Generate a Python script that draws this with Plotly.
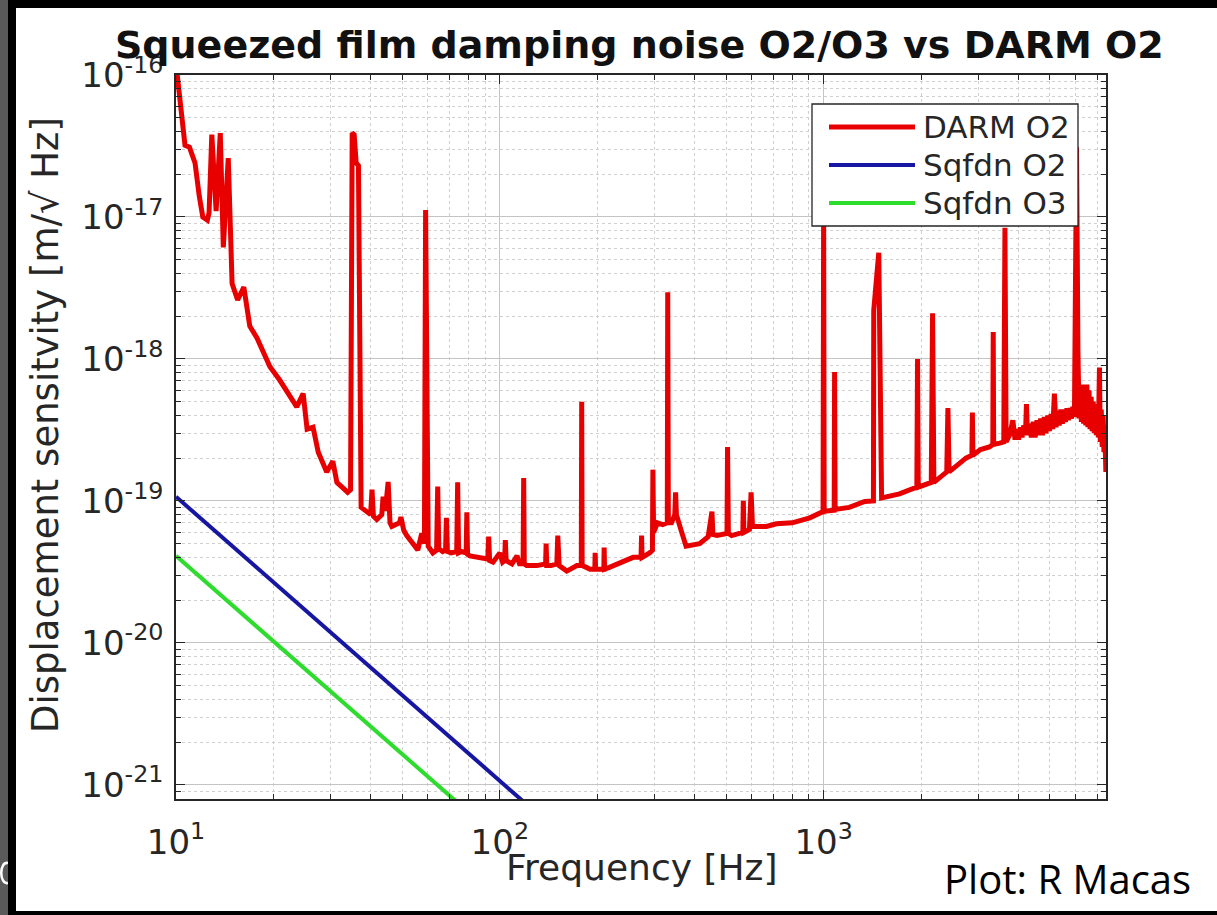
import plotly.graph_objects as go

# ---------------------------------------------------------------- data
legend_labels = ["DARM O2", "Sqfdn O2", "Sqfdn O3"]

darm_freq = [
    10.0, 10.3, 10.66, 11.0, 11.45, 11.8, 12.1, 12.5, 12.65, 12.9, 13.3, 13.7,
    14.0, 14.5, 14.9, 15.5, 16.2, 16.9, 17.8, 19.5, 20.9, 23.6, 24.7, 25.4,
    26.5, 27.5, 29.2, 30.5, 31.4, 33.9, 34.6, 35.0, 35.5, 36.0, 36.6, 37.3,
    38.8, 39.9, 40.3, 40.7, 41.7, 43.2, 43.6, 44.3, 45.2, 45.8, 46.4, 49.0,
    49.5, 50.5, 51.6, 55.8, 57.4, 58.5, 59.0, 59.6, 60.1, 62.1, 63.8, 64.3,
    64.8, 66.6, 68.0, 68.4, 68.9, 70.8, 73.6, 74.1, 74.6, 76.2, 78.7, 79.1,
    79.5, 80.8, 85.0, 91.8, 92.4, 93.0, 95.3, 100.0, 102.0, 103.5, 104.0, 104.6,
    109.0, 113.0, 115.0, 118.0, 118.5, 119.0, 121.0, 130.0, 138.5, 139.0, 139.6, 144.0,
    150.0, 151.0, 152.5, 161.0, 173.0, 178.5, 179.0, 179.6, 185.0, 190.0, 196.5, 197.0,
    197.6, 203.0, 209.5, 210.0, 210.6, 218.0, 240.0, 258.0, 273.0, 274.0, 275.0, 290.0,
    296.0, 297.0, 298.5, 307.0, 318.0, 329.0, 330.0, 331.5, 339.0, 347.0, 349.0, 351.0,
    363.0, 376.0, 414.0, 440.0, 452.0, 455.0, 469.0, 503.0, 505.0, 508.0, 520.0, 540.0,
    563.0, 565.0, 567.0, 590.0, 597.0, 603.0, 620.0, 666.0, 715.0, 800.0, 906.0, 976.0,
    996.0, 1000.0, 1004.0, 1020.0, 1078.0, 1081.0, 1085.0, 1200.0, 1340.0, 1425.0, 1428.0, 1480.0,
    1500.0, 1510.0, 1715.0, 1940.0, 1950.0, 1960.0, 2150.0, 2170.0, 2190.0, 2400.0, 2420.0, 2440.0,
    2600.0, 2750.0, 2870.0, 2880.0, 2890.0, 3050.0, 3250.0, 3330.0, 3340.0, 3350.0, 3500.0, 3600.0,
    3630.0, 3660.0, 3750.0, 3840.0, 3900.0, 3950.0, 4000.0, 4050.0, 4100.0, 4150.0, 4200.0, 4230.0,
    4260.0, 4320.0, 4380.0, 4440.0, 4500.0, 4560.0, 4620.0, 4680.0, 4740.0, 4800.0, 4860.0, 4920.0,
    4980.0, 5040.0, 5100.0, 5160.0, 5220.0, 5280.0, 5340.0, 5400.0, 5460.0, 5520.0, 5580.0, 5640.0,
    5700.0, 5760.0, 5820.0, 5880.0, 5950.0, 6040.0, 6100.0, 6150.0, 6200.0, 6250.0, 6300.0, 6350.0,
    6400.0, 6450.0, 6500.0, 6550.0, 6600.0, 6650.0, 6700.0, 6750.0, 6800.0, 6850.0, 6900.0, 6950.0,
    7000.0, 7050.0, 7110.0, 7150.0, 7200.0, 7250.0, 7300.0, 7340.0, 7380.0, 7410.0, 7440.0,
]
darm_asd = [
    1.2e-16, 6.3e-17, 3.2e-17, 3.1e-17, 2.4e-17, 1.4e-17, 1.0e-17, 9.5e-18, 1.07e-17, 3.8e-17, 1.1e-17, 3.9e-17,
    6.1e-18, 2.6e-17, 3.4e-18, 2.6e-18, 3.2e-18, 1.7e-18, 1.4e-18, 8.8e-19, 7.1e-19, 4.6e-19, 5.7e-19, 3.2e-19,
    3.3e-19, 2.2e-19, 1.6e-19, 1.9e-19, 1.35e-19, 1.15e-19, 1.2e-19, 3.9e-17, 3.8e-17, 2.4e-17, 2.3e-17, 9.0e-20,
    8.3e-20, 8.0e-20, 1.2e-19, 7.8e-20, 7.4e-20, 8.0e-20, 1.07e-19, 8.5e-20, 1.36e-19, 7.0e-20, 6.6e-20, 7.0e-20,
    7.7e-20, 6.2e-20, 5.7e-20, 4.5e-20, 5.9e-20, 5.0e-20, 1.12e-17, 5.0e-20, 4.8e-20, 4.3e-20, 4.5e-20, 1.26e-19,
    4.6e-20, 4.4e-20, 4.5e-20, 7.6e-20, 4.4e-20, 4.3e-20, 4.4e-20, 1.35e-19, 4.3e-20, 4.4e-20, 4.3e-20, 8.3e-20,
    4.2e-20, 4.1e-20, 4.0e-20, 3.9e-20, 5.6e-20, 3.8e-20, 3.7e-20, 4.3e-20, 3.7e-20, 3.8e-20, 5.3e-20, 3.8e-20,
    3.6e-20, 4.1e-20, 3.6e-20, 3.6e-20, 1.45e-19, 3.6e-20, 3.5e-20, 3.5e-20, 3.6e-20, 5.0e-20, 3.5e-20, 3.5e-20,
    3.6e-20, 5.7e-20, 3.5e-20, 3.2e-20, 3.5e-20, 3.5e-20, 5.0e-19, 3.5e-20, 3.4e-20, 3.3e-20, 3.3e-20, 4.3e-20,
    3.3e-20, 3.3e-20, 3.3e-20, 4.7e-20, 3.3e-20, 3.4e-20, 3.7e-20, 4.0e-20, 4.0e-20, 5.7e-20, 4.0e-20, 4.3e-20,
    4.5e-20, 1.66e-19, 6.0e-20, 7.0e-20, 6.8e-20, 7.0e-20, 2.95e-18, 7.0e-20, 7.0e-20, 8.0e-20, 1.15e-19, 8.0e-20,
    6.2e-20, 4.8e-20, 5.0e-20, 5.6e-20, 8.4e-20, 5.8e-20, 5.7e-20, 5.9e-20, 2.4e-19, 5.9e-20, 5.7e-20, 5.8e-20,
    6.0e-20, 1.0e-19, 6.0e-20, 6.3e-20, 1.15e-19, 6.6e-20, 6.6e-20, 6.6e-20, 6.9e-20, 7.0e-20, 7.6e-20, 8.2e-20,
    8.4e-20, 1.1e-17, 8.4e-20, 8.5e-20, 8.6e-20, 8.1e-19, 8.7e-20, 9.0e-20, 9.9e-20, 1.0e-19, 2.2e-18, 5.6e-18,
    1.8e-19, 1.05e-19, 1.12e-19, 1.25e-19, 1.0e-18, 1.25e-19, 1.35e-19, 2.1e-18, 1.35e-19, 1.6e-19, 4.5e-19, 1.6e-19,
    1.8e-19, 2.0e-19, 2.1e-19, 4.2e-19, 2.1e-19, 2.3e-19, 2.4e-19, 2.5e-19, 1.55e-18, 2.5e-19, 2.55e-19, 2.6e-19,
    8.4e-18, 2.6e-19, 2.9e-19, 3.7e-19, 2.7e-19, 3.2e-19, 2.7e-19, 3.3e-19, 2.8e-19, 3.4e-19, 2.9e-19, 4.8e-19,
    2.9e-19, 3.5e-19, 2.8e-19, 3.6e-19, 2.8e-19, 3.7e-19, 2.9e-19, 3.8e-19, 2.9e-19, 3.9e-19, 3.0e-19, 4.0e-19,
    3.1e-19, 4.1e-19, 3.2e-19, 5.7e-19, 3.3e-19, 4.3e-19, 3.4e-19, 4.4e-19, 3.5e-19, 4.4e-19, 3.6e-19, 4.5e-19,
    3.7e-19, 4.5e-19, 3.8e-19, 4.6e-19, 3.9e-19, 3.1e-17, 1.15e-18, 3.8e-19, 6.6e-19, 3.6e-19, 6.3e-19, 3.5e-19,
    6.6e-19, 3.4e-19, 6.6e-19, 3.3e-19, 6.0e-19, 3.2e-19, 5.4e-19, 3.1e-19, 5.0e-19, 3.0e-19, 4.8e-19, 2.9e-19,
    4.6e-19, 2.8e-19, 8.7e-19, 2.6e-19, 4.4e-19, 2.4e-19, 4.0e-19, 2.2e-19, 3.4e-19, 1.9e-19, 1.6e-19,
]

sqfdn_o2_freq = [10.0, 120.0]
sqfdn_o2_asd = [1.07e-19, 7.4e-22]
sqfdn_o3_freq = [10.0, 75.0]
sqfdn_o3_asd = [4.1e-20, 7.3e-22]

x_tick_vals = [10, 100, 1000]
x_tick_text = ["10<sup>1</sup>", "10<sup>2</sup>", "10<sup>3</sup>"]
y_tick_vals = [1e-21, 1e-20, 1e-19, 1e-18, 1e-17, 1e-16]
y_tick_text = ["10<sup>-21</sup>", "10<sup>-20</sup>", "10<sup>-19</sup>",
               "10<sup>-18</sup>", "10<sup>-17</sup>", "10<sup>-16</sup>"]

colors = ["#e80000", "#1616a2", "#2edc2e"]
widths = [5, 4, 4]

# ---------------------------------------------------------------- layout geometry (pixels)
W, H = 1217, 915
L, R, T, B = 176, 1106, 75, 799


def px(x):
    return (x - L) / (R - L)


def py(y):
    return (B - y) / (B - T)


FONT = "DejaVu Sans"
INK = "#262626"

fig = go.Figure()
series = [(darm_freq, darm_asd), (sqfdn_o2_freq, sqfdn_o2_asd), (sqfdn_o3_freq, sqfdn_o3_asd)]
for (f, a), name, c, w in zip(series, legend_labels, colors, widths):
    fig.add_trace(go.Scatter(x=f, y=a, mode="lines", name=name,
                             line=dict(color=c, width=w), showlegend=False))

axis_common = dict(
    type="log", showline=True, linecolor=INK, linewidth=1.5, mirror="allticks",
    ticks="inside", ticklen=9, tickwidth=1.2, tickcolor=INK,
    showgrid=True, gridcolor="#c4c4c4", gridwidth=1,
    tickmode="array",
    tickfont=dict(family=FONT, size=34, color=INK),
    minor=dict(dtick="D1", ticks="inside", ticklen=5, tickcolor=INK,
               showgrid=True, gridcolor="#cfcfcf", griddash="dot", gridwidth=1),
)

fig.update_xaxes(range=[1, 3.872], tickvals=x_tick_vals, ticktext=x_tick_text,
                 ticklabelstandoff=12, **axis_common)
fig.update_yaxes(range=[-21.1, -16], tickvals=y_tick_vals, ticktext=y_tick_text,
                 ticklabelstandoff=4, **axis_common)

shapes = []
# slide frame around the figure
shapes.append(dict(type="rect", xref="paper", yref="paper", x0=px(0), x1=px(8), y0=py(H), y1=py(0),
                   fillcolor="#5a5a5a", line=dict(width=0), layer="above"))
# cut-off glyph on the left strip
shapes.append(dict(type="path", xref="paper", yref="paper",
                   path="M %f,%f C %f,%f %f,%f %f,%f" % (px(8), py(863), px(-1), py(861), px(-1), py(885), px(8), py(883)),
                   line=dict(color="white", width=2.5), layer="above"))
shapes.append(dict(type="rect", xref="paper", yref="paper", x0=px(8), x1=px(16), y0=py(H), y1=py(0),
                   fillcolor="black", line=dict(width=0), layer="above"))
shapes.append(dict(type="rect", xref="paper", yref="paper", x0=px(8), x1=px(W), y0=py(8), y1=py(0),
                   fillcolor="black", line=dict(width=0), layer="above"))
shapes.append(dict(type="rect", xref="paper", yref="paper", x0=px(8), x1=px(W), y0=py(H), y1=py(911),
                   fillcolor="black", line=dict(width=0), layer="above"))

# legend box
shapes.append(dict(type="rect", xref="paper", yref="paper", x0=px(812), x1=px(1078), y0=py(226), y1=py(104),
                   fillcolor="white", line=dict(color=INK, width=1.3), layer="above"))
annotations = []
for i, (name, c, w) in enumerate(zip(legend_labels, colors, widths)):
    yy = 127 + 38 * i
    shapes.append(dict(type="line", xref="paper", yref="paper", x0=px(829), x1=px(915), y0=py(yy), y1=py(yy),
                       line=dict(color=c, width=w), layer="above"))
    annotations.append(dict(xref="paper", yref="paper", x=px(921), y=py(yy), text=name, showarrow=False,
                            xanchor="left", yanchor="middle", font=dict(family=FONT, size=31, color=INK)))

annotations += [
    dict(xref="paper", yref="paper", x=px(639), y=py(45), showarrow=False,
         text="<b>Squeezed film damping noise O2/O3 vs DARM O2</b>", xanchor="center", yanchor="middle",
         font=dict(family=FONT, size=38, color="#111111")),
    dict(xref="paper", yref="paper", x=px(641), y=py(867), showarrow=False, text="Frequency [Hz]",
         xanchor="center", yanchor="middle", font=dict(family=FONT, size=36, color=INK)),
    dict(xref="paper", yref="paper", x=px(45), y=py(425), showarrow=False,
         text="Displacement sensitvity [m/\u221a Hz]", textangle=-90,
         xanchor="center", yanchor="middle", font=dict(family=FONT, size=37, color=INK)),
    dict(xref="paper", yref="paper", x=px(1067), y=py(878), showarrow=False, text="Plot: R Macas",
         xanchor="center", yanchor="middle", font=dict(family="Open Sans", size=40, color="black")),
]

fig.update_layout(
    width=W, height=H, autosize=False,
    margin=dict(l=L, r=W - R, t=T, b=H - B, pad=0),
    paper_bgcolor="white", plot_bgcolor="white",
    shapes=shapes, annotations=annotations, showlegend=False,
)

fig.write_html("out.html")
